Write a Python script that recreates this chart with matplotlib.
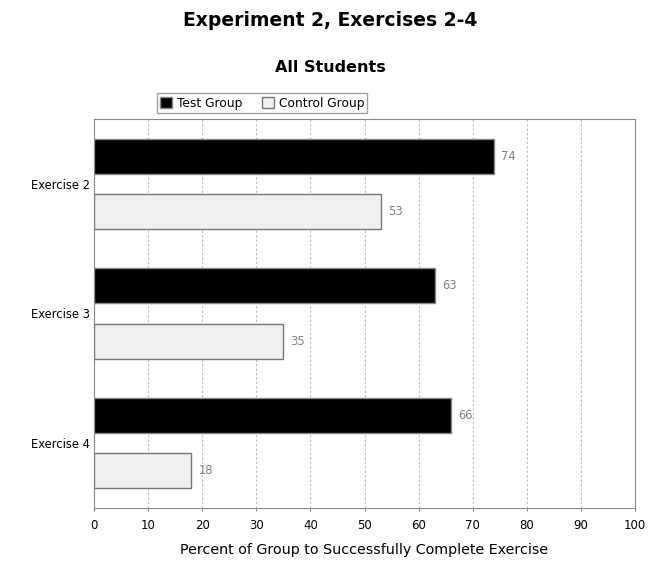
##Import pyplot and numpy
import matplotlib.pyplot as plt
import numpy as np

##Data
exercises = ['Exercise 2', 'Exercise 3', 'Exercise 4']
test_group = [74, 63, 66]
control_group = [53, 35, 18]
x_ticks = [0, 10, 20, 30, 40, 50, 60, 70, 80, 90, 100]

fig = plt.figure(figsize=(6.6, 5.63), dpi=100)
ax = fig.add_axes([94/660, 1-508/563, 541/660, 389/563])

pos = np.arange(len(exercises))
h = 0.27
off = 0.213

ax.barh(pos - off, test_group, height=h, color='black', edgecolor='#888888', linewidth=1, label='Test Group', zorder=3)
ax.barh(pos + off, control_group, height=h, color='#f0f0f0', edgecolor='#777777', linewidth=1, label='Control Group', zorder=3)

##Value labels next to each bar
for p, v in zip(pos, test_group):
    ax.text(v + 1.3, p - off, str(v), va='center', ha='left', fontsize=8.3, color='#808080')
for p, v in zip(pos, control_group):
    ax.text(v + 1.3, p + off, str(v), va='center', ha='left', fontsize=8.3, color='#808080')

ax.set_xlim(0, 100)
ax.set_ylim(2.5, -0.5)
ax.set_xticks(x_ticks)
ax.set_yticks(pos)
ax.set_yticklabels(exercises, fontsize=8.3)
ax.tick_params(axis='x', labelsize=8.5, length=2, color='#888888', pad=6)
ax.tick_params(axis='y', length=0, pad=3)
ax.xaxis.grid(True, linestyle=(0, (2, 2)), color='#bbbbbb', linewidth=0.8, zorder=0)
for s in ax.spines.values():
    s.set_color('#888888')

ax.set_xlabel('Percent of Group to Successfully Complete Exercise', fontsize=10.3, labelpad=8)

fig.text(0.5, 1-20/563, 'Experiment 2, Exercises 2-4', ha='center', va='center', fontsize=13.5, fontweight='bold')
fig.text(0.5, 1-68/563, 'All Students', ha='center', va='center', fontsize=11.5, fontweight='bold')

leg = fig.legend(loc='center', bbox_to_anchor=(262/660, 1-103/563), ncol=2, fontsize=8.8,
                 frameon=True, fancybox=False, edgecolor='#888888', handlelength=1.0, handleheight=1.0,
                 columnspacing=1.6, handletextpad=0.4, borderpad=0.25)
leg.get_frame().set_linewidth(1)

plt.savefig('out.png', dpi=100)
